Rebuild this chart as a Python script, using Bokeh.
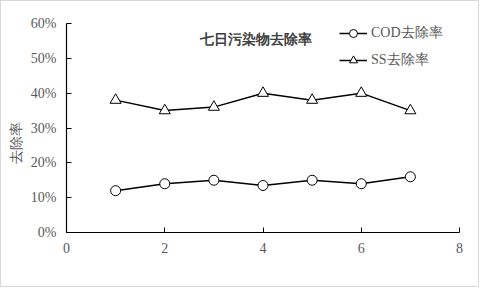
from bokeh.plotting import figure
from bokeh.models import Range1d, FixedTicker, NumeralTickFormatter, Legend, LegendItem, Label, Title
from bokeh.embed import file_html
from bokeh.resources import INLINE

days = [1, 2, 3, 4, 5, 6, 7]
cod_removal = [0.12, 0.14, 0.15, 0.135, 0.15, 0.14, 0.16]
ss_removal = [0.38, 0.35, 0.36, 0.40, 0.38, 0.40, 0.35]
x_ticks = [0, 2, 4, 6, 8]
y_ticks = [0, 0.1, 0.2, 0.3, 0.4, 0.5, 0.6]
title_text = "七日污染物去除率"
y_label = "去除率"
series_names = ["COD去除率", "SS去除率"]

p = figure(width=479, height=287, output_backend="svg", toolbar_location=None,
           x_range=Range1d(0, 8), y_range=Range1d(0, 0.6),
           min_border_left=65, min_border_right=21, min_border_top=22, min_border_bottom=56)
p.styles = {"border": "1px solid #d9d9d9"}
p.outline_line_color = None
p.xgrid.grid_line_color = None
p.ygrid.grid_line_color = None
p.background_fill_color = "white"
p.border_fill_color = "white"

for ax in (p.xaxis[0], p.yaxis[0]):
    ax.axis_line_color = "black"
    ax.axis_line_width = 1.2
    ax.major_tick_line_color = "black"
    ax.major_tick_in = 5
    ax.major_tick_out = 0
    ax.minor_tick_line_color = None
    ax.major_label_text_font = "Liberation Serif"
    ax.major_label_text_font_size = "14px"
    ax.major_label_text_color = "#595959"
    ax.major_label_standoff = 10

p.xaxis.ticker = FixedTicker(ticks=x_ticks)
p.yaxis.ticker = FixedTicker(ticks=y_ticks)
p.yaxis.formatter = NumeralTickFormatter(format="0%")

l1 = p.line(days, cod_removal, line_color="black", line_width=1.5)
m1 = p.scatter(days, cod_removal, marker="circle", size=10, fill_color="white",
               line_color="black", line_width=1)
l2 = p.line(days, ss_removal, line_color="black", line_width=1.5)
m2 = p.scatter(days, ss_removal, marker="triangle", size=11, fill_color="white",
               line_color="black", line_width=1)

legend = Legend(items=[LegendItem(label=series_names[0], renderers=[l1, m1]),
                       LegendItem(label=series_names[1], renderers=[l2, m2])],
                location=(273, 162), padding=0, margin=0, spacing=7,
                glyph_width=28, glyph_height=20, label_height=20, label_standoff=4,
                border_line_color=None, background_fill_alpha=0,
                label_text_font="Liberation Serif", label_text_font_size="14px",
                label_text_color="#595959")
p.add_layout(legend)

p.add_layout(Label(x=3.85, y=0.5555, text=title_text, text_align="center",
                   text_baseline="middle", text_font_size="14px", text_font_style="bold",
                   text_color="#404040", text_font="Liberation Serif"))
p.add_layout(Title(text=y_label, align="left", offset=69, standoff=7,
                   text_font_size="14px", text_font_style="normal", text_color="#595959",
                   text_font="Liberation Serif"), "left")

open("out.html", "w").write(file_html(p, INLINE))
